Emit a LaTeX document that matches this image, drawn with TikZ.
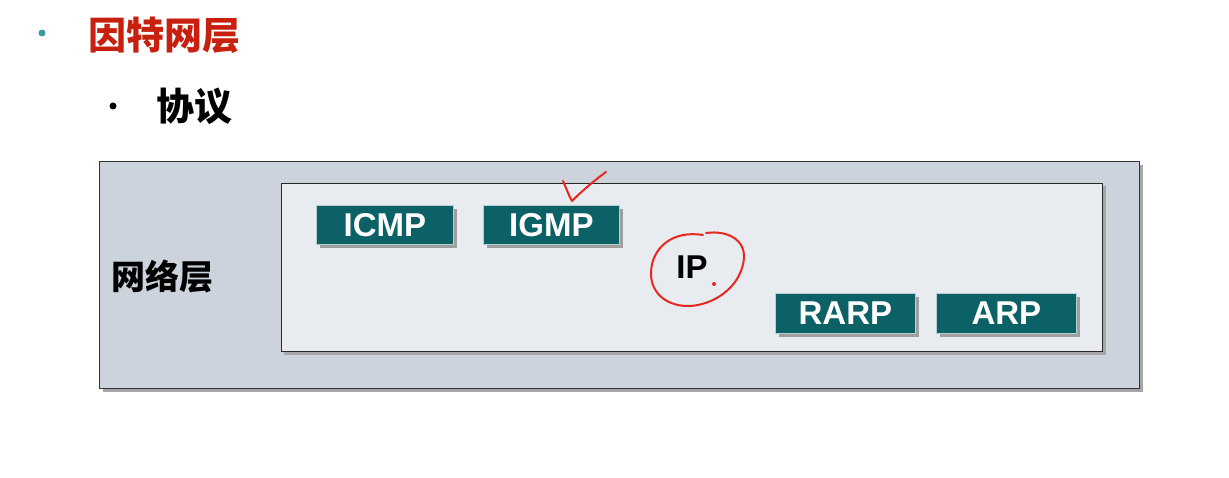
\documentclass[tikz,border=0pt]{standalone}
\usepackage{fontspec}
\setmainfont{Liberation Sans}
\newfontfamily\cjk{Noto Sans CJK SC}
\definecolor{teal1}{HTML}{0B6166}
\definecolor{outerfill}{HTML}{CDD3DC}
\definecolor{innerfill}{HTML}{E8EBEF}
\definecolor{titlered}{HTML}{C8200E}
\definecolor{bulletteal}{HTML}{3A9AA4}
\definecolor{pen}{HTML}{E8281E}
\tikzset{
  proto/.style={fill=teal1, draw=white!70!teal1, line width=0.8pt, minimum width=137pt, minimum height=39pt,
    text=white, font=\fontsize{33}{33}\selectfont\bfseries, inner sep=0pt, anchor=north west},
  pshadow/.style={fill=gray!75},
  penline/.style={draw=pen, line width=2pt, line cap=round, line join=round}
}
\begin{document}
\begin{tikzpicture}[x=1pt,y=-1pt]
\useasboundingbox (0,0) rectangle (1229,478);
% title
\node[circle, fill=bulletteal, inner sep=0pt, minimum size=7pt] (b1) at (42,33) {};
\node[anchor=west, text=titlered, font=\cjk\bfseries\fontsize{38}{38}\selectfont, inner sep=0pt] (title) at (88,35) {因特网层};
\node[circle, fill=black, inner sep=0pt, minimum size=7pt] (b2) at (113,106) {};
\node[anchor=west, font=\cjk\bfseries\fontsize{38}{38}\selectfont, inner sep=0pt] (sub) at (156,106) {协议};
% outer box
\fill[gray!70] (103,165) rectangle (1143,392);
\draw[fill=outerfill, draw=black!80, line width=0.8pt] (99,161) rectangle (1139,388);
\node[anchor=west, font=\cjk\bfseries\fontsize{34}{34}\selectfont, inner sep=0pt] (layer) at (111,277) {网络层};
% inner box
\fill[gray!70] (284,186) rectangle (1106,355);
\draw[fill=innerfill, draw=black!85, line width=0.8pt] (281,183) rectangle (1102,351);
% protocol boxes
\fill[pshadow] (320,209) rectangle (457,248);
\node[proto] (icmp) at (316,205) {ICMP};
\fill[pshadow] (487,209) rectangle (623,248);
\node[proto, minimum width=136pt] (igmp) at (483,205) {IGMP};
\fill[pshadow] (779,297) rectangle (919,337);
\node[proto, minimum width=140pt, minimum height=40pt] (rarp) at (775,293) {RARP};
\fill[pshadow] (940,297) rectangle (1080,337);
\node[proto, minimum width=140pt, minimum height=40pt] (arp) at (936,293) {ARP};
% IP
\node[font=\fontsize{33}{33}\selectfont\bfseries, inner sep=0pt] (ip) at (692,267) {IP};
% annotations
\draw[penline] (563,181) .. controls (567,190) and (569,196) .. (572,201) .. controls (583,190) and (595,180) .. (606,172);
\draw[penline] (703,235) .. controls (672,230) and (652,248) .. (651,272)
  .. controls (650,296) and (672,310) .. (698,305)
  .. controls (722,300) and (742,282) .. (744,258)
  .. controls (745,240) and (728,230) .. (706,233);
\fill[pen] (714,284) circle (2pt);
\end{tikzpicture}
\end{document}
